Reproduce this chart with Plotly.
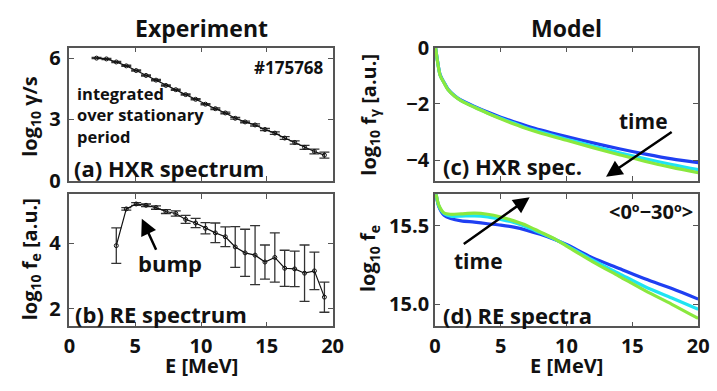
import plotly.graph_objects as go

# ---------------- data ----------------
E_hxr = [2.06, 2.81, 3.56, 4.32, 5.07, 5.82, 6.58, 7.33, 8.08, 8.83, 9.59, 10.34,
         11.09, 11.85, 12.60, 13.35, 14.11, 14.86, 15.61, 16.36, 17.12, 17.87, 18.62, 19.38]
hxr = [6.01, 5.97, 5.82, 5.63, 5.40, 5.16, 4.93, 4.67, 4.46, 4.22, 3.99, 3.75,
       3.53, 3.32, 3.06, 2.88, 2.73, 2.51, 2.33, 2.09, 1.87, 1.63, 1.43, 1.25]
hxr_err = [0.03, 0.03, 0.03, 0.03, 0.03, 0.03, 0.03, 0.03, 0.03, 0.03, 0.03, 0.03,
           0.04, 0.04, 0.04, 0.04, 0.05, 0.05, 0.06, 0.07, 0.08, 0.10, 0.12, 0.15]

E_re = [3.56, 4.32, 5.07, 5.82, 6.58, 7.33, 8.08, 8.83, 9.59, 10.34, 11.09,
        11.85, 12.60, 13.35, 14.11, 14.86, 15.61, 16.36, 17.12, 17.87, 18.62, 19.38]
re = [3.92, 5.04, 5.19, 5.15, 5.08, 4.96, 4.90, 4.72, 4.61, 4.45, 4.31,
      4.19, 3.88, 3.70, 3.63, 3.42, 3.56, 3.23, 3.21, 3.08, 3.15, 2.35]
re_err = [0.54, 0.04, 0.04, 0.04, 0.05, 0.06, 0.08, 0.12, 0.14, 0.17, 0.30,
          0.30, 0.62, 0.72, 0.90, 0.52, 0.75, 0.55, 0.54, 0.86, 0.57, 0.46]

E_fg = [0.05, 0.2, 0.4, 0.7, 1.0, 1.5, 2, 3, 4, 5, 6, 7, 8, 10, 12, 14, 16, 18, 20]
fg_blue = [0.0, -0.48, -0.97, -1.24, -1.48, -1.71, -1.87, -2.09, -2.29, -2.47, -2.63,
           -2.78, -2.92, -3.16, -3.38, -3.59, -3.78, -3.95, -4.08]
fg_cyan = [0.0, -0.49, -0.98, -1.25, -1.49, -1.72, -1.88, -2.11, -2.32, -2.51, -2.68,
           -2.85, -2.99, -3.25, -3.49, -3.73, -3.95, -4.15, -4.33]
fg_green = [0.0, -0.50, -0.99, -1.26, -1.50, -1.73, -1.89, -2.12, -2.33, -2.53, -2.71,
            -2.88, -3.03, -3.29, -3.55, -3.80, -4.04, -4.25, -4.44]

E_fe = [0.05, 0.3, 0.7, 1.2, 2, 3, 4, 5, 6, 7, 8, 9, 10, 12, 14, 16, 18, 20]
fe_blue = [15.72, 15.62, 15.565, 15.545, 15.53, 15.522, 15.512, 15.503, 15.49, 15.47,
           15.445, 15.415, 15.38, 15.295, 15.228, 15.16, 15.10, 15.033]
fe_cyan = [15.72, 15.625, 15.575, 15.56, 15.56, 15.562, 15.555, 15.54, 15.52, 15.49,
           15.455, 15.418, 15.375, 15.28, 15.195, 15.11, 15.04, 14.968]
fe_green = [15.72, 15.63, 15.58, 15.572, 15.575, 15.579, 15.572, 15.555, 15.53, 15.50,
            15.46, 15.42, 15.37, 15.27, 15.178, 15.085, 15.00, 14.91]

x_ticks = [0, 5, 10, 15, 20]
x_ticklabels = ["0", "5", "10", "15", "20"]
ya_ticks = [0, 3, 6]
yb_ticks = [2, 4]
yc_ticks = [-4, -2, 0]
yc_ticklabels = ["−4", "−2", "0"]
yd_ticks = [15.0, 15.5]
yd_ticklabels = ["15.0", "15.5"]

# ---------------- figure ----------------
W, H = 717, 391
FONT = "Open Sans"
BLUE, CYAN, GREEN = "#1f3ff2", "#1fe4f2", "#8ae83e"

def b(s):
    return "<b>" + s + "</b>"

fig = go.Figure()

def err_trace(x, y, e, xa, ya):
    return go.Scatter(
        x=x, y=y, xaxis=xa, yaxis=ya, mode="lines+markers",
        line=dict(color="#111111", width=1.2),
        marker=dict(symbol="circle-open", size=4, color="#111111", line=dict(width=1)),
        error_y=dict(type="data", array=e, visible=True, color="#333333",
                     thickness=1.3, width=5),
        showlegend=False, hoverinfo="skip")

fig.add_trace(err_trace(E_hxr, hxr, hxr_err, "x", "y"))
fig.add_trace(err_trace(E_re, re, re_err, "x2", "y2"))

for ys, c in [(fg_blue, BLUE), (fg_cyan, CYAN), (fg_green, GREEN)]:
    fig.add_trace(go.Scatter(x=E_fg, y=ys, xaxis="x3", yaxis="y3", mode="lines",
                             line=dict(color=c, width=3.2, shape="spline", smoothing=0.8),
                             showlegend=False))
for ys, c in [(fe_blue, BLUE), (fe_cyan, CYAN), (fe_green, GREEN)]:
    fig.add_trace(go.Scatter(x=E_fe, y=ys, xaxis="x4", yaxis="y4", mode="lines",
                             line=dict(color=c, width=3.2, shape="spline", smoothing=0.8),
                             showlegend=False))

def px(x):
    return x / W

def py(y):
    return 1 - y / H

LX = [px(65), px(334.5)]
RX = [px(439.3), px(709)]
TY = [py(179), py(36)]
BY = [py(335.5), py(193.5)]

axcommon = dict(showgrid=False, zeroline=False, showline=True, linecolor="#555555",
                linewidth=1.5, mirror="allticks", ticks="inside", ticklen=5,
                tickcolor="#555555", tickwidth=1.2, tickmode="array",
                tickfont=dict(family=FONT, size=20, color="#111111"))

fig.update_layout(
    width=W, height=H, margin=dict(l=0, r=0, t=0, b=0),
    paper_bgcolor="white", plot_bgcolor="white",
    font=dict(family=FONT, color="#111111"),
    xaxis=dict(domain=LX, anchor="y", range=[0, 20], tickvals=x_ticks, showticklabels=False, **axcommon),
    yaxis=dict(domain=TY, anchor="x", range=[0, 6.53], tickvals=ya_ticks,
               ticktext=[b(str(v)) for v in ya_ticks], ticklabelstandoff=3, **axcommon),
    xaxis2=dict(domain=LX, anchor="y2", range=[0, 20], tickvals=x_ticks,
                ticktext=[b(s) for s in x_ticklabels], ticklabelstandoff=1, **axcommon),
    yaxis2=dict(domain=BY, anchor="x2", range=[1.46, 5.49], tickvals=yb_ticks,
                ticktext=[b(str(v)) for v in yb_ticks], ticklabelstandoff=3, **axcommon),
    xaxis3=dict(domain=RX, anchor="y3", range=[0, 20], tickvals=x_ticks, showticklabels=False, **axcommon),
    yaxis3=dict(domain=TY, anchor="x3", range=[-4.72, 0], tickvals=yc_ticks,
                ticktext=[b(s) for s in yc_ticklabels], **axcommon),
    xaxis4=dict(domain=RX, anchor="y4", range=[0, 20], tickvals=x_ticks,
                ticktext=[b(s) for s in x_ticklabels], ticklabelstandoff=1, **axcommon),
    yaxis4=dict(domain=BY, anchor="x4", range=[14.86, 15.70], tickvals=yd_ticks,
                ticktext=[b(s) for s in yd_ticklabels], **axcommon),
)

def txt(text, x, y, size, xanchor="center", angle=0, yanchor="middle", align="center"):
    fig.add_annotation(text=b(text), x=px(x), y=py(y), xref="paper", yref="paper",
                       showarrow=False, xanchor=xanchor, yanchor=yanchor, textangle=angle,
                       align=align,
                       font=dict(family=FONT, size=size, color="#111111"))

# titles
txt("Experiment", 200, 15, 23)
txt("Model", 574, 15, 23)
txt("E [MeV]", 200, 378, 20)
txt("E [MeV]", 574, 378, 20)
# y titles
txt("log<sub>10</sub> γ/s", 25, 110, 20, angle=-90)
txt("log<sub>10</sub> f<sub>e</sub> [a.u.]", 25, 263, 20, angle=-90)
txt("log<sub>10</sub> f<sub>γ</sub> [a.u.]", 372, 108, 20, angle=-90)
txt("log<sub>10</sub> f<sub>e</sub>", 372, 263, 20, angle=-90)
# panel labels
txt("(a) HXR spectrum", 68, 165, 22, xanchor="left")
txt("(b) RE spectrum", 69, 322, 22, xanchor="left")
txt("(c) HXR spec.", 446, 163, 22, xanchor="left")
txt("(d) RE spectra", 446, 323, 22, xanchor="left")
txt("#175768", 328, 57, 17, xanchor="right")
txt("integrated<br>over stationary<br>period", 71, 109, 16.5, xanchor="left", align="left")
txt("<0º−30º>", 706, 212, 20, xanchor="right")
txt("bump", 168, 267, 22)
txt("time", 653, 115, 21)
txt("time", 484, 265, 21)

def arrow(x, y, ax, ay, xa, ya):
    fig.add_annotation(x=x, y=y, ax=ax, ay=ay, xref=xa, yref=ya, axref=xa, ayref=ya,
                       text="", showarrow=True, arrowhead=2, arrowsize=1.3,
                       arrowwidth=2.5, arrowcolor="#000000")

arrow(5.5, 4.74, 6.64, 3.75, "x2", "y2")
arrow(13.0, -4.58, 18.1, -2.96, "x3", "y3")
arrow(7.2, 15.68, 2.08, 15.377, "x4", "y4")

fig.write_html("out.html")
